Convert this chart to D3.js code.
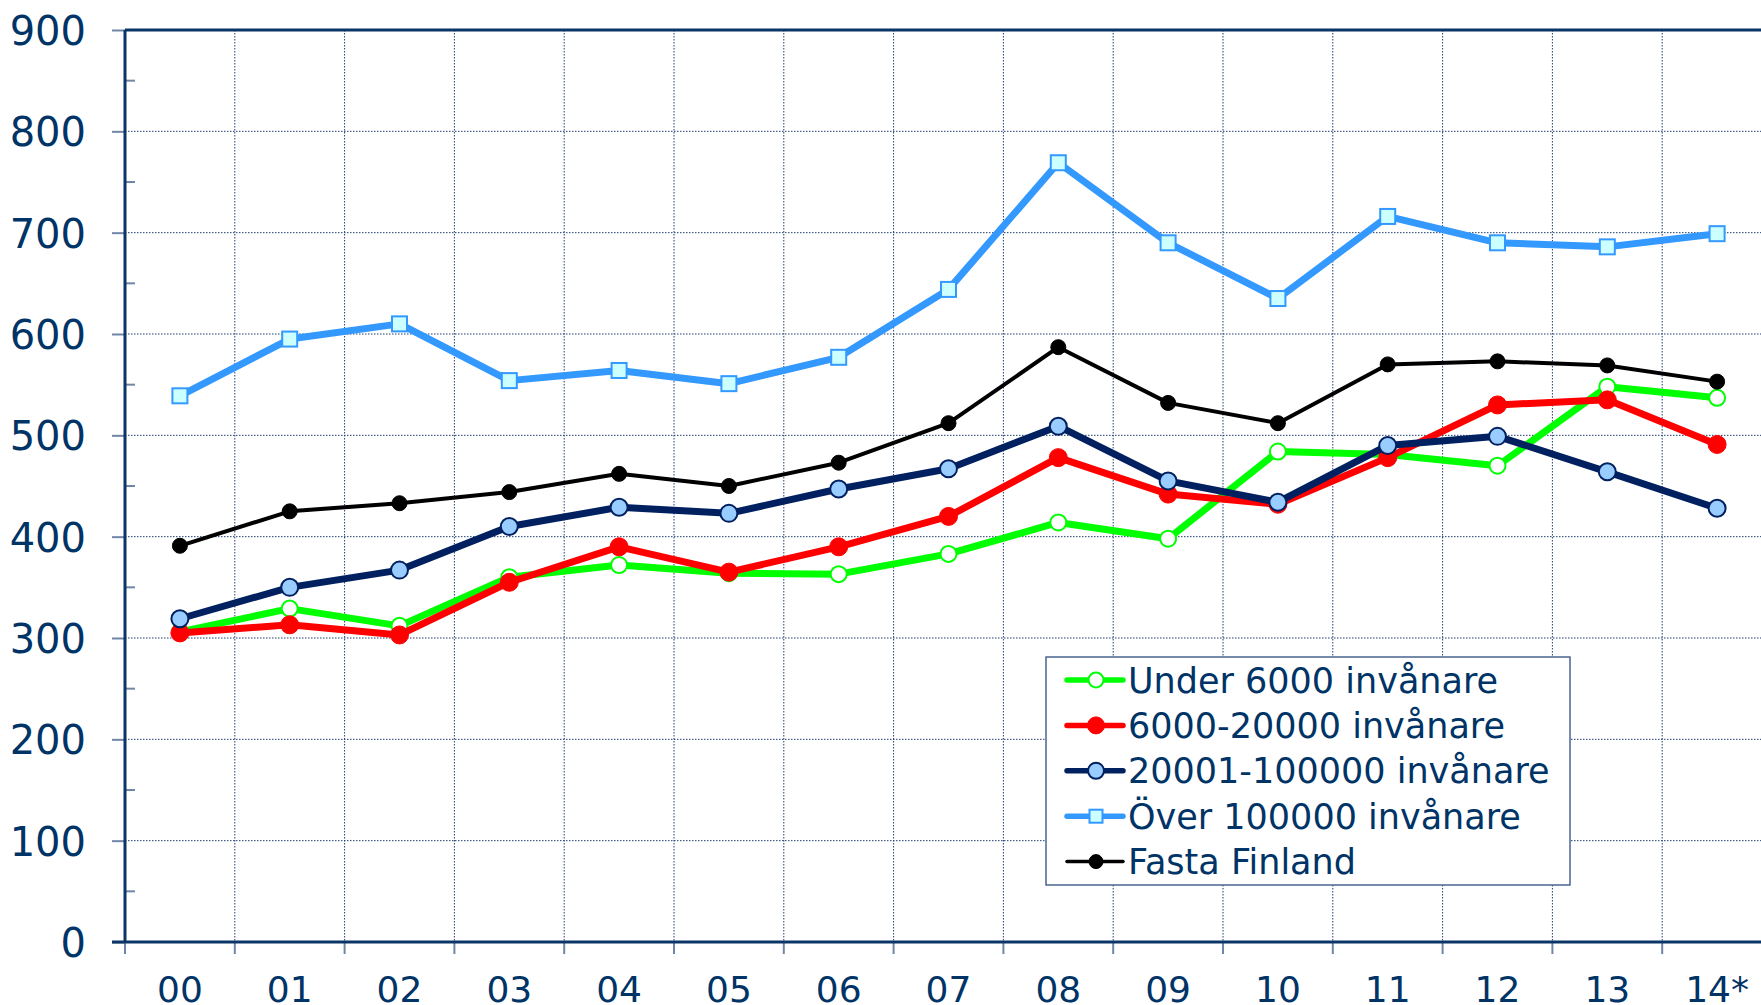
<!DOCTYPE html>
<html lang="sv">
<head>
<meta charset="utf-8">
<style>
  body { margin: 0; background: #fff; }
  svg { display: block; font-family: Verdana, "DejaVu Sans", sans-serif; }
  .grid line { stroke: #1f3f6e; stroke-width: 1; stroke-dasharray: 1.5 1.5; }
  .tick-label { fill: #003366; }
</style>
</head>
<body>
<svg width="1761" height="1005"></svg>
<script src="https://d3js.org/d3.v7.min.js"></script>
<script>
// years (14 = preliminary)
var years = ["00","01","02","03","04","05","06","07","08","09","10","11","12","13","14*"];

var under6000   = [306, 329, 312, 360, 372, 364, 363, 383, 414, 398, 484, 481, 470, 548, 537];
var mid6to20    = [305, 313, 303, 355, 390, 365, 390, 420, 478, 442, 432, 478, 530, 535, 491];
var mid20to100  = [319, 350, 367, 410, 429, 423, 447, 467, 509, 455, 434, 490, 499, 464, 428];
var over100000  = [539, 595, 610, 554, 564, 551, 577, 644, 769, 690, 635, 716, 690, 686, 699];
var fastaFinland = [391, 425, 433, 444, 462, 450, 473, 512, 587, 532, 512, 570, 573, 569, 553];

var yTicks = [0,100,200,300,400,500,600,700,800,900];
var yMinor = [50,150,250,350,450,550,650,750,850];

var series = [
    {name: "Under 6000 invånare", values: under6000, line: "#00ff00", width: 7, shape: "circle", r: 8, fill: "#ffffff", stroke: "#00ff00", sw: 2},
    {name: "6000-20000 invånare", values: mid6to20, line: "#ff0000", width: 7, shape: "circle", r: 9, fill: "#ff0000", stroke: "#ff0000", sw: 1},
    {name: "20001-100000 invånare", values: mid20to100, line: "#002060", width: 7, shape: "circle", r: 8.5, fill: "#99ccff", stroke: "#002060", sw: 2},
    {name: "Över 100000 invånare", values: over100000, line: "#3399ff", width: 7, shape: "square", r: 7.5, fill: "#ccffff", stroke: "#3399ff", sw: 2},
    {name: "Fasta Finland", values: fastaFinland, line: "#000000", width: 4, shape: "circle", r: 7.5, fill: "#000000", stroke: "#000000", sw: 1}
];

var svg = d3.select("svg");
var axisColor = "#0b3467";

var x = d3.scaleBand().domain(years).range([125, 125 + 15 * 109.8]);
var y = d3.scaleLinear().domain([0, 900]).range([942, 30]);
var cx = function (d, i) { return x(years[i]) + x.bandwidth() / 2; };

// grid
var grid = svg.append("g").attr("class", "grid");
grid.selectAll(".h").data(yTicks.slice(1, -1)).enter().append("line")
    .attr("x1", 125).attr("x2", 1761)
    .attr("y1", function (d) { return y(d); }).attr("y2", function (d) { return y(d); });
grid.selectAll(".v").data(years.slice(1)).enter().append("line")
    .attr("x1", function (d) { return x(d); }).attr("x2", function (d) { return x(d); })
    .attr("y1", 30).attr("y2", 942);

// y axis
var yAxis = svg.append("g").attr("transform", "translate(125,0)")
    .call(d3.axisLeft(y).tickValues(yTicks).tickSize(13).tickPadding(26));
yAxis.select(".domain").remove();
yAxis.selectAll(".tick line").attr("stroke", "#6f86a6").attr("stroke-width", 2);
yAxis.selectAll(".tick text").attr("class", "tick-label").attr("font-size", 40)
    .attr("font-family", "Verdana, 'DejaVu Sans', sans-serif").attr("dy", "0.36em");

svg.append("g").selectAll("line").data(yMinor).enter().append("line")
    .attr("x1", 125).attr("x2", 135)
    .attr("y1", function (d) { return y(d); }).attr("y2", function (d) { return y(d); })
    .attr("stroke", "#6f86a6").attr("stroke-width", 2);

// x axis
var xAxis = svg.append("g").attr("transform", "translate(0,942)")
    .call(d3.axisBottom(x).tickSize(0).tickPadding(34));
xAxis.select(".domain").remove();
xAxis.selectAll(".tick text").attr("class", "tick-label").attr("font-size", 36)
    .attr("font-family", "Verdana, 'DejaVu Sans', sans-serif");

svg.append("g").selectAll("line").data(years).enter().append("line")
    .attr("x1", function (d) { return x(d); }).attr("x2", function (d) { return x(d); })
    .attr("y1", 942).attr("y2", 954)
    .attr("stroke", "#6f86a6").attr("stroke-width", 2);

// frame
svg.append("line").attr("x1", 125).attr("x2", 1761).attr("y1", 30).attr("y2", 30)
    .attr("stroke", axisColor).attr("stroke-width", 3);
svg.append("line").attr("x1", 125).attr("x2", 125).attr("y1", 30).attr("y2", 942)
    .attr("stroke", axisColor).attr("stroke-width", 3);
svg.append("line").attr("x1", 112).attr("x2", 1761).attr("y1", 942).attr("y2", 942)
    .attr("stroke", axisColor).attr("stroke-width", 3);

function drawMarker(g, s, px, py) {
    if (s.shape === "square") {
        g.append("rect").attr("x", px - s.r).attr("y", py - s.r)
            .attr("width", s.r * 2).attr("height", s.r * 2)
            .attr("fill", s.fill).attr("stroke", s.stroke).attr("stroke-width", s.sw);
    } else {
        g.append("circle").attr("cx", px).attr("cy", py).attr("r", s.r)
            .attr("fill", s.fill).attr("stroke", s.stroke).attr("stroke-width", s.sw);
    }
}

var line = d3.line().x(cx).y(function (d) { return y(d); });

series.forEach(function (s) {
    var g = svg.append("g");
    g.append("path").datum(s.values)
        .attr("d", line)
        .attr("fill", "none")
        .attr("stroke", s.line)
        .attr("stroke-width", s.width)
        .attr("stroke-linejoin", "round");
    s.values.forEach(function (v, i) {
        drawMarker(g, s, cx(v, i), y(v));
    });
});

// legend
var lg = svg.append("g");
lg.append("rect").attr("x", 1046).attr("y", 657).attr("width", 524).attr("height", 228)
    .attr("fill", "#fff").attr("stroke", "#4a6690").attr("stroke-width", 1.5);
series.forEach(function (s, i) {
    var ly = 680 + i * 45.4;
    lg.append("line").attr("x1", 1067).attr("x2", 1123).attr("y1", ly).attr("y2", ly)
        .attr("stroke", s.line).attr("stroke-width", s.width === 7 ? 5.5 : 3.5)
        .attr("stroke-linecap", "round");
    drawMarker(lg, {shape: s.shape, r: s.shape === "square" ? 6.5 : s.r - 0.5, fill: s.fill, stroke: s.stroke, sw: s.sw}, 1096, ly);
    lg.append("text").attr("x", 1128).attr("y", ly).attr("dy", "0.36em")
        .attr("font-size", 35).attr("fill", "#003366")
        .text(s.name);
});
</script>
</body>
</html>
